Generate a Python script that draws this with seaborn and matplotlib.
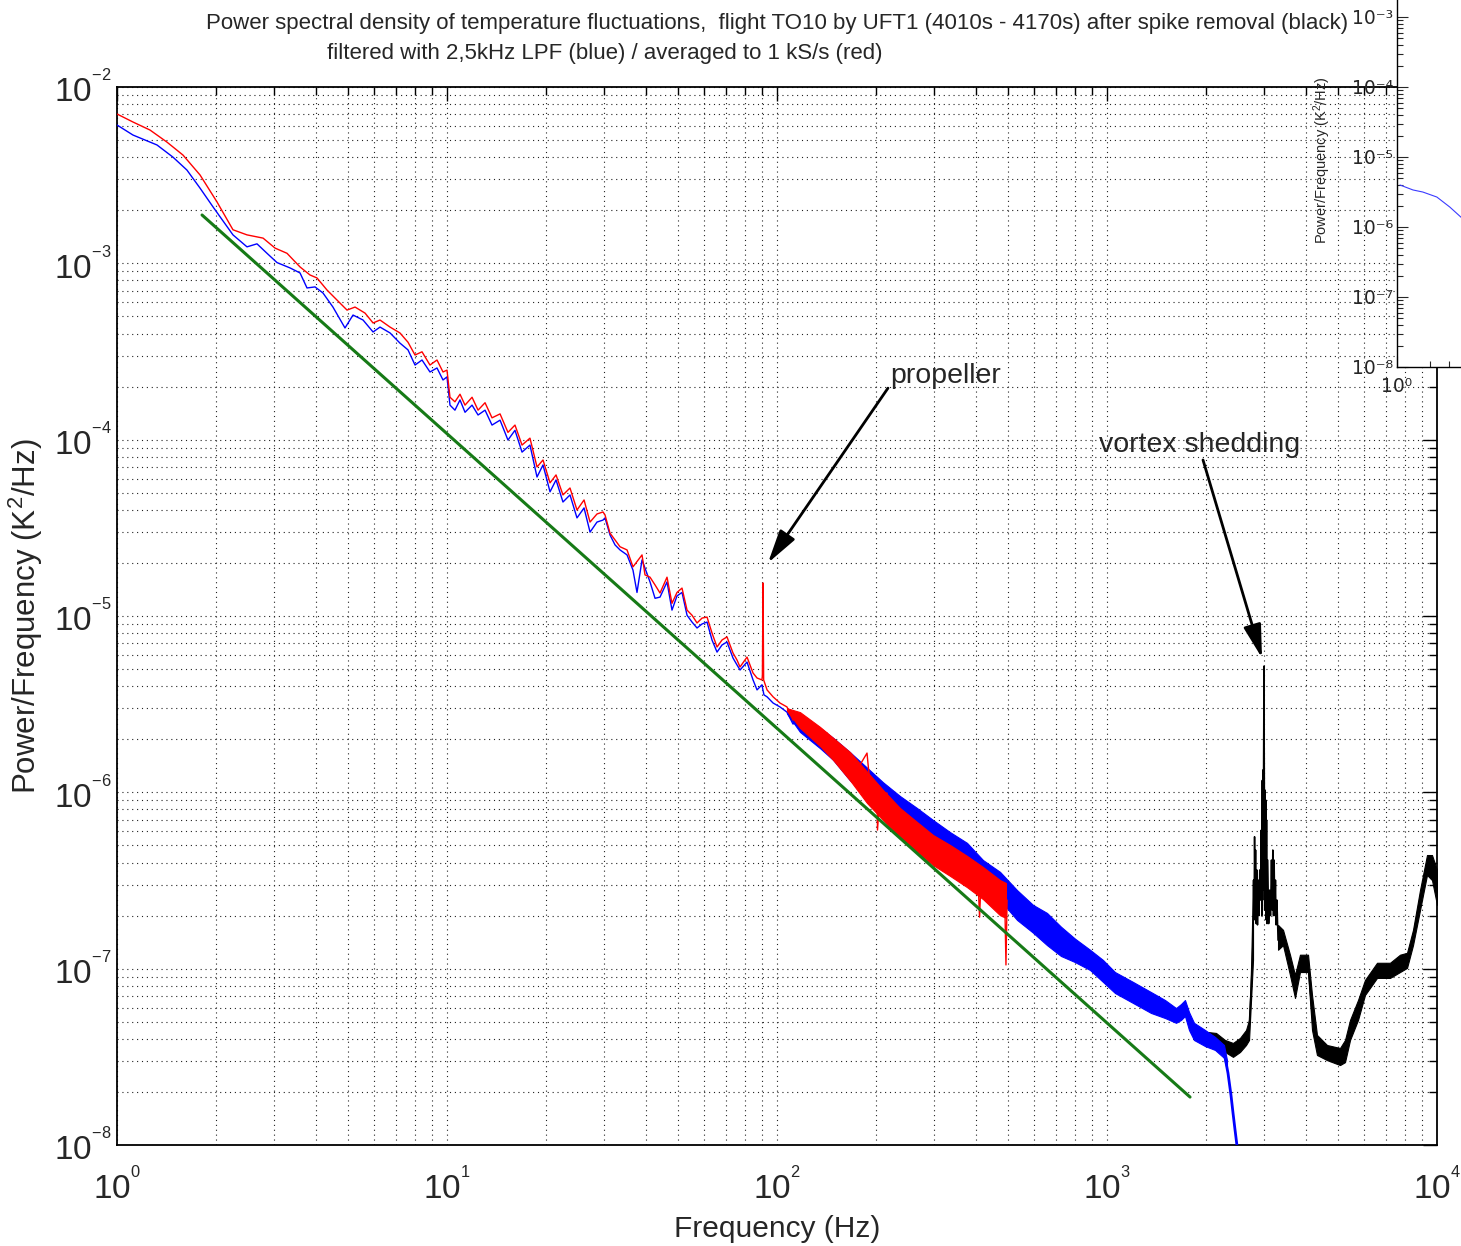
import numpy as np
import matplotlib
matplotlib.use("Agg")
import matplotlib.pyplot as plt
import seaborn as sns
from matplotlib.ticker import LogLocator, NullFormatter

# ---------------- data ----------------
blue_f = [1.0, 1.118, 1.322, 1.478, 1.629, 1.785, 1.954, 2.246, 2.477, 2.656,
          2.848, 3.054, 3.344, 3.586, 3.765, 3.981, 4.209, 4.512, 4.908, 5.19,
          5.567, 5.97, 6.266, 6.72, 7.20, 7.617, 8.0, 8.40, 8.88, 9.326,
          9.725, 10.0, 10.21, 10.57, 10.95, 11.34, 11.91, 12.42, 13.04, 13.69,
          14.48, 15.30, 16.07, 16.88, 17.84, 18.74, 19.54, 20.52, 21.40, 22.46,
          23.59, 24.77, 26.02, 27.13, 28.48, 29.70, 30.12, 31.19, 32.30, 33.44,
          35.12, 36.61, 37.65, 38.99, 41.23, 42.70, 44.21, 46.42, 48.06, 49.77,
          51.54, 53.38, 55.27, 57.24, 59.27, 61.38, 63.54, 65.81, 68.13, 70.55,
          73.56, 75.64, 77.27, 81.13, 84.6, 87.0, 90.0, 91.3, 93.3, 97.3,
          102.1, 107.2, 111.8, 117.4, 123.3, 128.5, 135.0, 141.8, 147.8, 155.2,
          163.0, 170.0, 178.4, 187.4, 195.4, 205.2]
blue_p = [6.09e-3, 5.34e-3, 4.69e-3, 4.00e-3, 3.38e-3, 2.67e-3, 2.09e-3, 1.45e-3, 1.24e-3, 1.29e-3,
          1.14e-3, 1.01e-3, 9.42e-4, 8.82e-4, 7.25e-4, 7.35e-4, 6.79e-4, 5.65e-4, 4.30e-4, 5.09e-4,
          4.77e-4, 4.08e-4, 4.35e-4, 4.03e-4, 3.53e-4, 3.23e-4, 2.65e-4, 2.83e-4, 2.42e-4, 2.55e-4,
          2.18e-4, 2.27e-4, 1.57e-4, 1.47e-4, 1.68e-4, 1.43e-4, 1.57e-4, 1.38e-4, 1.47e-4, 1.21e-4,
          1.29e-4, 9.95e-5, 1.13e-4, 8.50e-5, 9.32e-5, 6.14e-5, 7.19e-5, 5.06e-5, 5.91e-5, 4.43e-5,
          4.86e-5, 3.60e-5, 4.10e-5, 2.99e-5, 3.41e-5, 3.50e-5, 3.60e-5, 2.88e-5, 2.53e-5, 2.37e-5,
          2.22e-5, 1.82e-5, 1.36e-5, 2.08e-5, 1.56e-5, 1.26e-5, 1.28e-5, 1.56e-5, 1.08e-5, 1.30e-5,
          1.36e-5, 1.01e-5, 9.24e-6, 8.55e-6, 9.01e-6, 9.24e-6, 7.31e-6, 6.24e-6, 6.85e-6, 7.12e-6,
          5.78e-6, 5.28e-6, 4.94e-6, 5.48e-6, 4.34e-6, 3.81e-6, 4.07e-6, 3.57e-6, 3.48e-6, 3.21e-6,
          3.05e-6, 2.85e-6, 2.44e-6, 2.57e-6, 2.26e-6, 2.20e-6, 2.14e-6, 1.98e-6, 1.74e-6, 1.63e-6,
          1.53e-6, 1.43e-6, 1.34e-6, 1.10e-6, 1.03e-6, 9.65e-7]

blue_band_f = [107.2, 117.4, 135.0, 147.8, 166.4, 187.4, 209.6, 235.9, 265.6, 297.0,
               334.4, 376.5, 421.0, 474.0, 533.8, 596.8, 658.0, 725.3, 799.7, 888.2,
               972.5, 1057, 1199, 1359, 1499, 1619, 1676, 1723, 1772, 1835,
               1982, 2125, 2262, 2310]
blue_band_hi = [2.85e-6, 2.78e-6, 2.32e-6, 2.04e-6, 1.69e-6, 1.38e-6, 1.14e-6, 9.53e-7, 8.15e-7, 6.97e-7,
                5.95e-7, 5.17e-7, 4.13e-7, 3.54e-7, 2.79e-7, 2.30e-7, 2.07e-7, 1.73e-7, 1.48e-7, 1.28e-7,
                1.12e-7, 9.57e-8, 8.41e-8, 7.37e-8, 6.64e-8, 5.98e-8, 6.30e-8, 6.64e-8, 5.68e-8, 4.93e-8,
                4.49e-8, 4.10e-8, 3.69e-8, 3.03e-8]
blue_band_lo = [2.80e-6, 2.20e-6, 1.78e-6, 1.53e-6, 1.17e-6, 9.53e-7, 7.94e-7, 6.53e-7, 5.51e-7, 4.71e-7,
                4.02e-7, 3.54e-7, 2.90e-7, 2.45e-7, 1.89e-7, 1.60e-7, 1.36e-7, 1.18e-7, 1.09e-7, 9.83e-8,
                8.41e-8, 7.28e-8, 6.39e-8, 5.61e-8, 5.25e-8, 4.93e-8, 5.12e-8, 5.39e-8, 4.49e-8, 3.94e-8,
                3.64e-8, 3.46e-8, 3.12e-8, 2.66e-8]

blue_tail_f = [2262, 2326, 2375, 2409, 2443, 2477, 2512]
blue_tail_p = [3.37e-8, 2.56e-8, 1.92e-8, 1.52e-8, 1.22e-8, 9.9e-9, 7.7e-9]

red_f = [1.0, 1.118, 1.259, 1.417, 1.585, 1.785, 2.009, 2.246, 2.477, 2.771,
         3.013, 3.275, 3.586, 3.844, 4.037, 4.328, 4.642, 4.978, 5.264, 5.645,
         5.97, 6.266, 6.72, 7.20, 7.617, 8.0, 8.40, 8.88, 9.326, 9.725,
         10.0, 10.21, 10.57, 10.95, 11.34, 11.91, 12.42, 13.04, 13.69, 14.48,
         15.30, 16.07, 16.88, 17.84, 18.74, 19.54, 20.52, 21.40, 22.46, 23.59,
         24.77, 26.02, 27.13, 28.48, 29.70, 30.12, 31.19, 32.30, 33.44, 35.12,
         36.61, 38.99, 39.81, 41.23, 42.70, 44.21, 46.42, 48.06, 49.77, 51.54,
         53.38, 55.27, 57.24, 59.27, 61.38, 63.54, 65.81, 68.13, 70.55, 73.56,
         75.64, 77.27, 81.13, 84.6, 87.0, 90.0, 90.3, 90.7, 91.1, 93.3,
         97.3, 102.1, 107.2, 111.8, 117.4, 123.3, 128.5, 135.0, 141.8, 147.8,
         155.2, 163.0, 170.0, 178.4, 187.4, 191.4, 200.9, 201.6, 205.2, 215.4,
         220.0, 271.3, 334.4, 406.5, 411.0, 415.0, 474.0, 490.0, 494.1, 498.0]
red_p = [7.03e-3, 6.33e-3, 5.70e-3, 4.87e-3, 4.11e-3, 3.17e-3, 2.23e-3, 1.55e-3, 1.45e-3, 1.39e-3,
         1.22e-3, 1.14e-3, 9.54e-4, 8.59e-4, 8.26e-4, 7.06e-4, 6.19e-4, 5.43e-4, 5.65e-4, 5.22e-4,
         4.59e-4, 4.77e-4, 4.35e-4, 4.03e-4, 3.57e-4, 3.02e-4, 3.15e-4, 2.65e-4, 2.83e-4, 2.42e-4,
         2.48e-4, 1.74e-4, 1.64e-4, 1.81e-4, 1.57e-4, 1.74e-4, 1.47e-4, 1.62e-4, 1.33e-4, 1.40e-4,
         1.10e-4, 1.21e-4, 9.32e-5, 1.02e-4, 7.00e-5, 7.67e-5, 5.69e-5, 6.31e-5, 4.86e-5, 5.32e-5,
         3.99e-5, 4.55e-5, 3.41e-5, 3.79e-5, 3.89e-5, 3.74e-5, 2.95e-5, 2.70e-5, 2.47e-5, 2.37e-5,
         1.90e-5, 2.22e-5, 1.71e-5, 1.66e-5, 1.50e-5, 1.35e-5, 1.66e-5, 1.18e-5, 1.36e-5, 1.44e-5,
         1.08e-5, 1.01e-5, 9.13e-6, 9.73e-6, 9.86e-6, 8.01e-6, 6.67e-6, 7.31e-6, 7.61e-6, 6.17e-6,
         5.63e-6, 5.14e-6, 5.85e-6, 4.75e-6, 4.45e-6, 4.34e-6, 4.57e-6, 1.54e-5, 4.34e-6, 3.81e-6,
         3.48e-6, 3.21e-6, 3.05e-6, 2.57e-6, 2.68e-6, 2.41e-6, 2.35e-6, 2.26e-6, 2.17e-6, 1.81e-6,
         1.67e-6, 1.57e-6, 1.53e-6, 1.43e-6, 1.67e-6, 1.10e-6, 1.03e-6, 6.11e-7, 9.65e-7, 9.91e-7,
         7.73e-7, 5.37e-7, 3.87e-7, 3.18e-7, 1.96e-7, 3.06e-7, 2.51e-7, 2.45e-7, 1.05e-7, 2.45e-7]

red_band_f = [107.2, 117.4, 135.0, 147.8, 166.4, 187.4, 209.6, 235.9, 265.6, 297.0,
              334.4, 376.5, 421.0, 474.0, 494.1]
red_band_hi = [3.0e-6, 2.85e-6, 2.35e-6, 2.04e-6, 1.69e-6, 1.31e-6, 1.03e-6, 8.15e-7, 6.79e-7, 5.73e-7,
               5.03e-7, 4.36e-7, 3.77e-7, 3.18e-7, 3.06e-7]
red_band_lo = [2.9e-6, 2.32e-6, 1.83e-6, 1.53e-6, 1.17e-6, 8.70e-7, 6.97e-7, 5.51e-7, 4.59e-7, 3.87e-7,
               3.36e-7, 2.90e-7, 2.48e-7, 2.01e-7, 1.94e-7]

black_f = [2024, 2140, 2278, 2409, 2530, 2638, 2694,
           2732, 2750, 2765, 2780, 2790, 2800, 2810, 2820, 2832, 2845,
           2858, 2872, 2888, 2903, 2918, 2934, 2945, 2955, 2962, 2969,
           2975, 2982, 2990, 2998, 3005, 3012, 3020, 3028, 3036, 3045,
           3055, 3070, 3090, 3110, 3130, 3150, 3165, 3180, 3195, 3210,
           3225, 3240, 3255, 3274, 3298,
           3415, 3585, 3713, 3844, 4066, 4181, 4328, 4642, 5083, 5263,
           5451, 5763, 6050, 6580, 7204, 7726, 8112, 8459, 8882, 9326,
           9657, 10000]
black_p = [4.1e-8, 4.0e-8, 3.65e-8, 3.45e-8, 3.7e-8, 4.1e-8, 4.5e-8,
           7.57e-8, 1.12e-7, 1.8e-7, 3.18e-7, 1.89e-7, 5.6e-7, 2.45e-7, 4.71e-7, 1.8e-7, 3.63e-7,
           1.77e-7, 3.18e-7, 2.0e-7, 3.63e-7, 2.45e-7, 6.11e-7, 2.0e-7, 1.17e-6, 2.45e-7, 1.34e-6,
           2.8e-7, 1.53e-6, 5.2e-6, 1.17e-6, 2.15e-7, 1.03e-6, 2.45e-7, 9.04e-7, 1.89e-7, 6.97e-7,
           1.8e-7, 4.13e-7, 1.8e-7, 2.79e-7, 2.0e-7, 4.13e-7, 2.15e-7, 4.71e-7, 2.0e-7, 4.13e-7,
           2.0e-7, 3.18e-7, 1.77e-7, 2.45e-7, 1.45e-7,
           1.5e-7, 1.05e-7, 7.9e-8, 1.07e-7, 1.07e-7, 5.6e-8, 3.7e-8, 3.35e-8, 3.2e-8, 3.4e-8,
           4.5e-8, 5.8e-8, 7.8e-8, 9.8e-8, 9.8e-8, 1.07e-7, 1.11e-7, 1.5e-7, 2.45e-7, 3.9e-7,
           3.75e-7, 2.9e-7]

black_band1_f = [2024, 2140, 2278, 2409, 2530, 2638, 2694, 2732, 2770]
black_band1_hi = [4.37e-8, 4.32e-8, 3.94e-8, 3.79e-8, 4.05e-8, 4.49e-8, 5.12e-8, 9.21e-8, 1.89e-7]
black_band1_lo = [3.84e-8, 3.69e-8, 3.37e-8, 3.16e-8, 3.37e-8, 3.69e-8, 3.94e-8, 6.64e-8, 1.12e-7]

black_band2_f = [3298, 3415, 3585, 3713, 3844, 4066, 4181, 4328, 4642, 5083,
                 5263, 5451, 5763, 6050, 6580, 7204, 7726, 8112, 8459, 8882,
                 9326, 9657, 10000]
black_band2_hi = [1.77e-7, 1.66e-7, 1.20e-7, 9.21e-8, 1.20e-7, 1.20e-7, 7.09e-8, 4.21e-8, 3.69e-8, 3.55e-8,
                  3.94e-8, 5.12e-8, 6.64e-8, 8.63e-8, 1.08e-7, 1.08e-7, 1.20e-7, 1.23e-7, 1.66e-7, 2.79e-7,
                  4.41e-7, 4.41e-7, 3.63e-7]
black_band2_lo = [1.28e-7, 1.36e-7, 9.21e-8, 6.82e-8, 9.57e-8, 9.57e-8, 4.49e-8, 3.24e-8, 3.03e-8, 2.84e-8,
                  2.95e-8, 3.94e-8, 5.12e-8, 7.09e-8, 8.86e-8, 8.86e-8, 9.57e-8, 1.01e-7, 1.36e-7, 2.15e-7,
                  3.40e-7, 3.18e-7, 2.30e-7]

green_f = [1.81, 1785]
green_p = [1.88e-3, 1.87e-8]

inset_f = [1.065, 1.40, 1.72, 2.31, 3.03, 3.90]
inset_p = [3.98e-6, 3.38e-6, 3.16e-6, 2.68e-6, 1.93e-6, 1.35e-6]

xtick_vals = [1, 10, 100, 1000, 10000]
xtick_exps = ["0", "1", "2", "3", "4"]
ytick_vals = [1e-8, 1e-7, 1e-6, 1e-5, 1e-4, 1e-3, 1e-2]
ytick_exps = ["-8", "-7", "-6", "-5", "-4", "-3", "-2"]
inset_ytick_vals = [1e-8, 1e-7, 1e-6, 1e-5, 1e-4, 1e-3]
inset_ytick_labels = ["10\u207b\u2078", "10\u207b\u2077", "10\u207b\u2076",
                      "10\u207b\u2075", "10\u207b\u2074", "10\u207b\u00b3"]
inset_xtick_vals = [1]
inset_xtick_labels = ["10\u2070"]

title1 = "Power spectral density of temperature fluctuations,  flight TO10 by UFT1 (4010s - 4170s) after spike removal (black)"
title2 = "filtered with 2,5kHz LPF (blue) / averaged to 1 kS/s (red)"

# ---------------- style ----------------
sns.set_style("white")
plt.rcParams["font.family"] = ["Liberation Sans", "DejaVu Sans"]
plt.rcParams["mathtext.fontset"] = "custom"
plt.rcParams["mathtext.rm"] = "Liberation Sans"
plt.rcParams["mathtext.it"] = "Liberation Sans:italic"
plt.rcParams["mathtext.bf"] = "Liberation Sans:bold"
plt.rcParams["axes.axisbelow"] = True

fig = plt.figure(figsize=(14.61, 12.46), dpi=100)
ax = fig.add_axes([117 / 1461, 1 - 1145 / 1246, 1320 / 1461, 1058 / 1246])
ax.set_xscale("log")
ax.set_yscale("log")
ax.set_xlim(1, 1e4)
ax.set_ylim(1e-8, 1e-2)

BLUE = "#0000ff"
RED = "#ff0000"
GREEN = "#167a16"

# black spectrum (visible part)
ax.fill_between(black_band1_f, black_band1_lo, black_band1_hi, color="black", lw=0.8, zorder=2)
ax.fill_between(black_band2_f, black_band2_lo, black_band2_hi, color="black", lw=0.8, zorder=2)
sns.lineplot(x=black_f, y=black_p, ax=ax, color="black", lw=1.1, estimator=None, sort=False, zorder=2)

# blue spectrum
ax.fill_between(blue_band_f, blue_band_lo, blue_band_hi, color=BLUE, lw=0.8, zorder=3)
sns.lineplot(x=blue_f, y=blue_p, ax=ax, color=BLUE, lw=1.0, estimator=None, sort=False, zorder=3)
sns.lineplot(x=blue_tail_f, y=blue_tail_p, ax=ax, color=BLUE, lw=2.0, estimator=None, sort=False, zorder=3)

# red spectrum
ax.fill_between(red_band_f, red_band_lo, red_band_hi, color=RED, lw=0.8, zorder=4)
sns.lineplot(x=red_f, y=red_p, ax=ax, color=RED, lw=1.0, estimator=None, sort=False, zorder=4)

# -5/3 reference line
sns.lineplot(x=green_f, y=green_p, ax=ax, color=GREEN, lw=2.2, estimator=None, sort=False, zorder=5)

# ticks / grid
ax.set_xticks(xtick_vals)
ax.set_xticklabels([r"$\mathregular{10^{{}^{%s}}}$" % e for e in xtick_exps])
ax.set_yticks(ytick_vals)
ax.set_yticklabels([r"$\mathregular{10^{{}^{%s}}}$" % e for e in ytick_exps])
ax.xaxis.set_minor_locator(LogLocator(base=10, subs=np.arange(2, 10), numticks=100))
ax.yaxis.set_minor_locator(LogLocator(base=10, subs=np.arange(2, 10), numticks=100))
ax.xaxis.set_minor_formatter(NullFormatter())
ax.yaxis.set_minor_formatter(NullFormatter())
ax.tick_params(which="both", direction="in", top=True, right=True, color="black", width=1.0)
ax.tick_params(which="major", length=10)
ax.tick_params(which="minor", length=6)
ax.tick_params(axis="x", which="major", labelsize=24, pad=17)
ax.tick_params(axis="y", which="major", labelsize=24, pad=4)
ax.grid(which="both", color="#222222", linestyle=(0, (1, 3.4)), linewidth=0.8)
for s in ax.spines.values():
    s.set_color("black")
    s.set_linewidth(1.3)

ax.set_xlabel("Frequency (Hz)", fontsize=21.5, labelpad=6)
ax.set_ylabel("Power/Frequency (K$^{2}$/Hz)", fontsize=22.5, labelpad=6)

# annotations
arrow_kw = dict(arrowstyle="-|>,head_length=0.6,head_width=0.16", color="black", lw=2.0,
                mutation_scale=34, shrinkA=0, shrinkB=0)
ax.annotate("", xy=(93.9, 2.0e-5), xytext=(216.9, 1.96e-4), arrowprops=arrow_kw, zorder=6)
ax.annotate("", xy=(2949, 5.78e-6), xytext=(1954, 7.67e-5), arrowprops=arrow_kw, zorder=6)
ax.text(220.0, 2.10e-4, "propeller", fontsize=20.5, ha="left", va="baseline", zorder=6)
ax.text(946, 8.5e-5, "vortex shedding", fontsize=20.5, ha="left", va="baseline", zorder=6)

# title lines
fig.text(777 / 1461, 1 - 29 / 1246, title1, fontsize=16, ha="center", va="baseline")
fig.text(605 / 1461, 1 - 59 / 1246, title2, fontsize=16, ha="center", va="baseline")

# overlapping fragment of another figure (top right)
ax_in = fig.add_axes([1397 / 1461, 1 - 367 / 1246, 0.3, 420 / 1246])
ax_in.set_zorder(10)
ax_in.set_facecolor("white")
ax_in.set_xscale("log")
ax_in.set_yscale("log")
ax_in.set_xlim(1, 1e4)
ax_in.set_ylim(1e-8, 1e-2)
sns.lineplot(x=inset_f, y=inset_p, ax=ax_in, color="#3b3bff", lw=0.8, estimator=None, sort=False)
ax_in.set_yticks(inset_ytick_vals)
ax_in.set_yticklabels(inset_ytick_labels, family="DejaVu Sans", fontsize=13.5)
ax_in.set_xticks(inset_xtick_vals)
ax_in.set_xticklabels(inset_xtick_labels, family="DejaVu Sans", fontsize=13.5)
ax_in.yaxis.set_minor_locator(LogLocator(base=10, subs=np.arange(2, 10), numticks=100))
ax_in.yaxis.set_minor_formatter(NullFormatter())
ax_in.xaxis.set_minor_locator(LogLocator(base=10, subs=np.arange(2, 10), numticks=100))
ax_in.xaxis.set_minor_formatter(NullFormatter())
ax_in.tick_params(which="both", direction="in", left=True, bottom=True, top=False, right=False, width=0.8)
ax_in.tick_params(axis="y", pad=3)
ax_in.tick_params(axis="x", pad=7)
ax_in.tick_params(which="major", length=8)
ax_in.tick_params(which="minor", length=4)
for s in ax_in.spines.values():
    s.set_color("black")
    s.set_linewidth(1.0)
ax_in.set_ylabel("Power/Frequency (K$^{2}$/Hz)", fontsize=10.5)
ax_in.yaxis.set_label_coords(-0.146, 0.493)

fig.savefig("out.png", dpi=100)
